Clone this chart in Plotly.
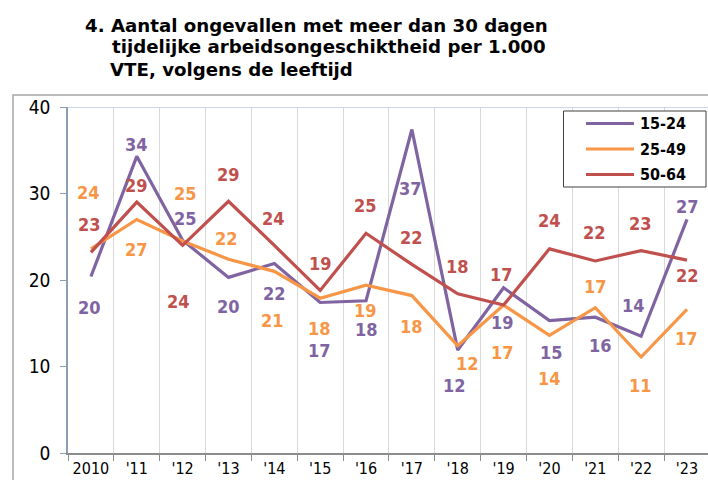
import plotly.graph_objects as go

# ---- data ----
years = ["2010", "'11", "'12", "'13", "'14", "'15", "'16", "'17", "'18", "'19", "'20", "'21", "'22", "'23"]
series_names = ["15-24", "25-49", "50-64"]
v_15_24 = [20.4, 34.3, 24.6, 20.3, 21.9, 17.4, 17.6, 37.4, 11.9, 19.1, 15.3, 15.7, 13.5, 27.0]
v_25_49 = [23.6, 27.0, 24.5, 22.4, 21.0, 17.9, 19.4, 18.2, 12.4, 17.1, 13.6, 16.8, 11.1, 16.6]
v_50_64 = [23.2, 29.0, 24.0, 29.1, 24.0, 18.8, 25.4, 21.8, 18.4, 17.1, 23.6, 22.2, 23.4, 22.3]
y_ticks = [0, 10, 20, 30, 40]
title_lines = ["4. Aantal ongevallen met meer dan 30 dagen",
               "tijdelijke arbeidsongeschiktheid per 1.000",
               "VTE, volgens de leeftijd"]

# ---- styles (label offsets in pixels: dx right, dy down) ----
colors = ["#8064A2", "#F79646", "#C0504D"]
dx_15 = [-1, 0, 3, 0, 0, -1, 0, -1, -3, -1, 2, 5, -8, 1]
dy_15 = [31, -12, -22, 29, 30, 48, 29, 59, 35, 35, 32, 28, -31, -13]
dx_25 = [-2, 0, 3, -2, -2, -1, -1, 0, 10, -1, 0, 0, -1, 0]
dy_25 = [-56, 30, -48, -21, 49, 30, 25, 31, 18, 47, 43, -21, 29, 29]
dx_50 = [-1, 0, -4, 0, -1, 0, -1, 0, 0, -2, 0, -1, -1, 1]
dy_50 = [-28, -17, 56, -27, -27, -27, -28, -27, -27, -31, -28, -28, -27, 15]

FONT = "DejaVu Sans Condensed, DejaVu Sans, sans-serif"
TITLE_FONT = "DejaVu Sans, sans-serif"
W, H = 708, 480
L, R, T, B = 68, 0, 107, 27
PW, PH = W - L - R, H - T - B
CAT_W = 45.85


def px(x):
    return (x - L) / PW


def py(y):
    return (H - B - y) / PH


fig = go.Figure()
all_vals = [v_15_24, v_25_49, v_50_64]
all_dx = [dx_15, dx_25, dx_50]
all_dy = [dy_15, dy_25, dy_50]

for name, vals, col in zip(series_names, all_vals, colors):
    fig.add_trace(go.Scatter(x=years, y=vals, mode="lines", name=name,
                             line=dict(color=col, width=3.2), showlegend=False))

annotations = []
for vals, col, dxs, dys in zip(all_vals, colors, all_dx, all_dy):
    for i, (v, dx, dy) in enumerate(zip(vals, dxs, dys)):
        annotations.append(dict(x=i, y=v, xref="x", yref="y", text=str(int(v + 0.5)),
                                showarrow=False, xshift=dx, yshift=-dy,
                                font=dict(family=FONT, size=18, color=col, weight="bold")))

# title lines
for txt, (tx, ty) in zip(title_lines, [(83, 25), (110, 47), (108, 69)]):
    annotations.append(dict(x=px(tx), y=py(ty), xref="paper", yref="paper", text="<b>" + txt + "</b>",
                            showarrow=False, xanchor="left", yanchor="middle",
                            font=dict(family=TITLE_FONT, size=18.2, color="#000000")))

shapes = []
# outer chart frame
shapes.append(dict(type="rect", xref="paper", yref="paper", x0=px(13), x1=px(720), y0=py(95), y1=py(490),
                   line=dict(color="#A6A6A6", width=1.5), fillcolor="rgba(0,0,0,0)", layer="below"))
# plot area top border
shapes.append(dict(type="line", xref="paper", yref="y", x0=0, x1=1, y0=40, y1=40,
                   line=dict(color="#B9CDE5", width=1.5)))
# legend
shapes.append(dict(type="rect", xref="paper", yref="paper", x0=px(563.5), x1=px(706), y0=py(111), y1=py(187),
                   line=dict(color="#404040", width=1), fillcolor="white"))
for i, (name, col) in enumerate(zip(series_names, colors)):
    ry = 123.5 + i * 25.5
    shapes.append(dict(type="line", xref="paper", yref="paper", x0=px(586), x1=px(634), y0=py(ry), y1=py(ry),
                       line=dict(color=col, width=3.2)))
    annotations.append(dict(x=px(638), y=py(ry), xref="paper", yref="paper", text="<b>" + name + "</b>",
                            showarrow=False, xanchor="left", yanchor="middle",
                            font=dict(family=FONT, size=16, color="#000000")))

fig.update_layout(
    width=W, height=H,
    margin=dict(l=L, r=R, t=T, b=B, pad=0),
    paper_bgcolor="white", plot_bgcolor="white",
    showlegend=False,
    annotations=annotations, shapes=shapes,
    xaxis=dict(type="category", categoryorder="array", categoryarray=years,
               range=[-0.5, -0.5 + PW / CAT_W], automargin=False,
               showgrid=True, gridcolor="#D9D9D9", gridwidth=1, tickson="boundaries",
               ticks="outside", ticklen=6, tickcolor="#8C8C8C",
               showline=True, linecolor="#8C8C8C", linewidth=1.5,
               tickfont=dict(family=FONT, size=16, color="#000000"), zeroline=False),
    yaxis=dict(range=[0, 40], tickvals=y_ticks, showgrid=False, zeroline=False, automargin=False,
               ticks="outside", ticklen=6, tickcolor="#8C9DB5",
               showline=True, linecolor="#8C9DB5", linewidth=1.5,
               ticklabelstandoff=6,
               tickfont=dict(family=FONT, size=19, color="#000000")),
)

fig.write_html("out.html", config={"displayModeBar": False},
               post_script="document.body.style.margin='0';document.body.style.overflow='hidden';")
